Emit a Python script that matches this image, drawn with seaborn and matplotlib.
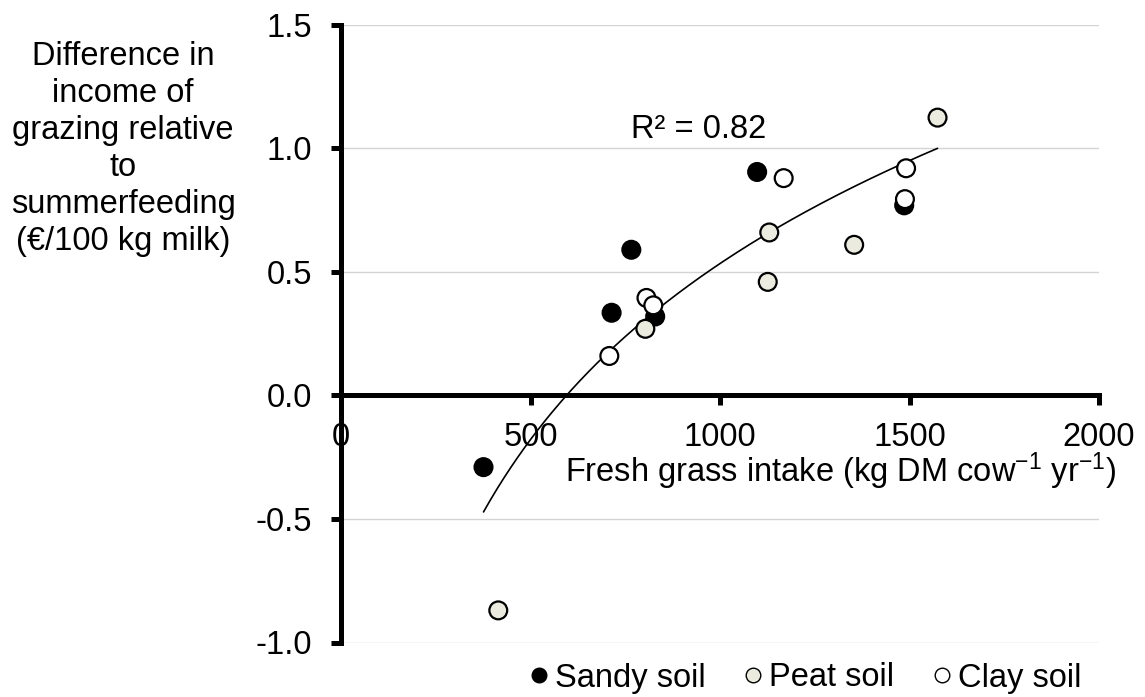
import numpy as np
import pandas as pd
import matplotlib
matplotlib.use("Agg")
import matplotlib.pyplot as plt
from matplotlib.lines import Line2D
import seaborn as sns

# ---- data ----
sandy_x = [376, 714, 766, 829, 1098, 1486]
sandy_y = [-0.29, 0.335, 0.59, 0.32, 0.905, 0.77]
peat_x = [415, 803, 1126, 1130, 1354, 1574]
peat_y = [-0.87, 0.27, 0.46, 0.66, 0.61, 1.125]
clay_x = [708, 806, 824, 1168, 1488, 1491]
clay_y = [0.16, 0.395, 0.365, 0.88, 0.795, 0.92]
soil_names = ["Sandy soil", "Peat soil", "Clay soil"]
soil_colors = ["#000000", "#EBEBDF", "#FFFFFF"]
x_ticks = [0, 500, 1000, 1500, 2000]
y_ticks = [-1.0, -0.5, 0.0, 0.5, 1.0, 1.5]
r2_label = "R² = 0.82"

df = pd.DataFrame({
    "x": sandy_x + peat_x + clay_x,
    "y": sandy_y + peat_y + clay_y,
    "soil": [soil_names[0]] * len(sandy_x) + [soil_names[1]] * len(peat_x)
            + [soil_names[2]] * len(clay_x),
})

sns.set_theme(style="white")
plt.rcParams["font.family"] = ["Liberation Sans", "DejaVu Sans"]
plt.rcParams["mathtext.default"] = "regular"
plt.rcParams["text.color"] = "black"
plt.rcParams["axes.labelcolor"] = "black"
plt.rcParams["xtick.color"] = "black"
plt.rcParams["ytick.color"] = "black"
FS = 23.5

fig = plt.figure(figsize=(11.45, 6.97), dpi=100)
W, H = 1145, 697
left, right, top, bottom = 341, 1099, 25, 642.5
ax = fig.add_axes([left / W, 1 - bottom / H, (right - left) / W, (bottom - top) / H])

palette = dict(zip(soil_names, soil_colors))
sns.scatterplot(data=df, x="x", y="y", hue="soil", palette=palette,
                edgecolor="black", linewidth=1.6, s=165, legend=False,
                ax=ax, zorder=3)

# logarithmic trend line fitted to all points
coef = np.polyfit(np.log(df["x"]), df["y"], 1)
xs = np.linspace(df["x"].min(), df["x"].max(), 200)
ax.plot(xs, coef[0] * np.log(xs) + coef[1], color="black", lw=1.2, zorder=2)

ax.set_xlim(0, 2000)
ax.set_ylim(-1.0, 1.5)
ax.set_xticks(x_ticks)
ax.set_xticklabels([str(v) for v in x_ticks])
ax.set_yticks(y_ticks)
ax.set_yticklabels([f"{v:.1f}" for v in y_ticks])

ax.yaxis.grid(True, color="#D4D4D4", lw=1.0)
ax.xaxis.grid(False)
ax.set_axisbelow(True)

for s in ["top", "right"]:
    ax.spines[s].set_visible(False)
ax.spines["bottom"].set_position(("data", 0))
for s in ["left", "bottom"]:
    ax.spines[s].set_color("black")
    ax.spines[s].set_linewidth(3.6)
    ax.spines[s].set_zorder(2.5)

ax.tick_params(axis="x", direction="out", length=7, width=3.6, color="black",
               labelsize=FS, pad=12, bottom=True, labelcolor="black")
ax.tick_params(axis="y", direction="out", length=7, width=3.6, color="black",
               labelsize=FS, pad=14, left=True, labelcolor="black")

ax.set_xlabel("Fresh grass intake (kg DM cow$^{-1}$ yr$^{-1}$)", fontsize=FS,
              ha="right", va="center", color="black")
ax.xaxis.set_label_coords((1116 - left) / (right - left), (bottom - 471) / (bottom - top))

ax.set_ylabel("Difference in\nincome of\ngrazing relative\nto\nsummerfeeding\n(€/100 kg milk)",
              fontsize=FS, rotation=0, ha="center", va="center",
              multialignment="center", linespacing=1.25, color="black")
ax.yaxis.set_label_coords((123 - left) / (right - left), (bottom - 149) / (bottom - top))

ax.text(943, 1.077, r2_label, fontsize=FS, ha="center", va="center", color="black")

handles = [Line2D([0], [0], marker="o", linestyle="none", markersize=10.5,
                  markerfacecolor=c, markeredgecolor="black", markeredgewidth=1.0)
           for c in soil_colors]
fig.legend(handles, soil_names, loc="center", ncol=3, frameon=False,
           bbox_to_anchor=(806 / W, 1 - 678 / H), fontsize=FS,
           handlelength=0.5, handletextpad=0.25, columnspacing=1.2,
           borderpad=0, borderaxespad=0)

fig.savefig("out.png", dpi=100)
